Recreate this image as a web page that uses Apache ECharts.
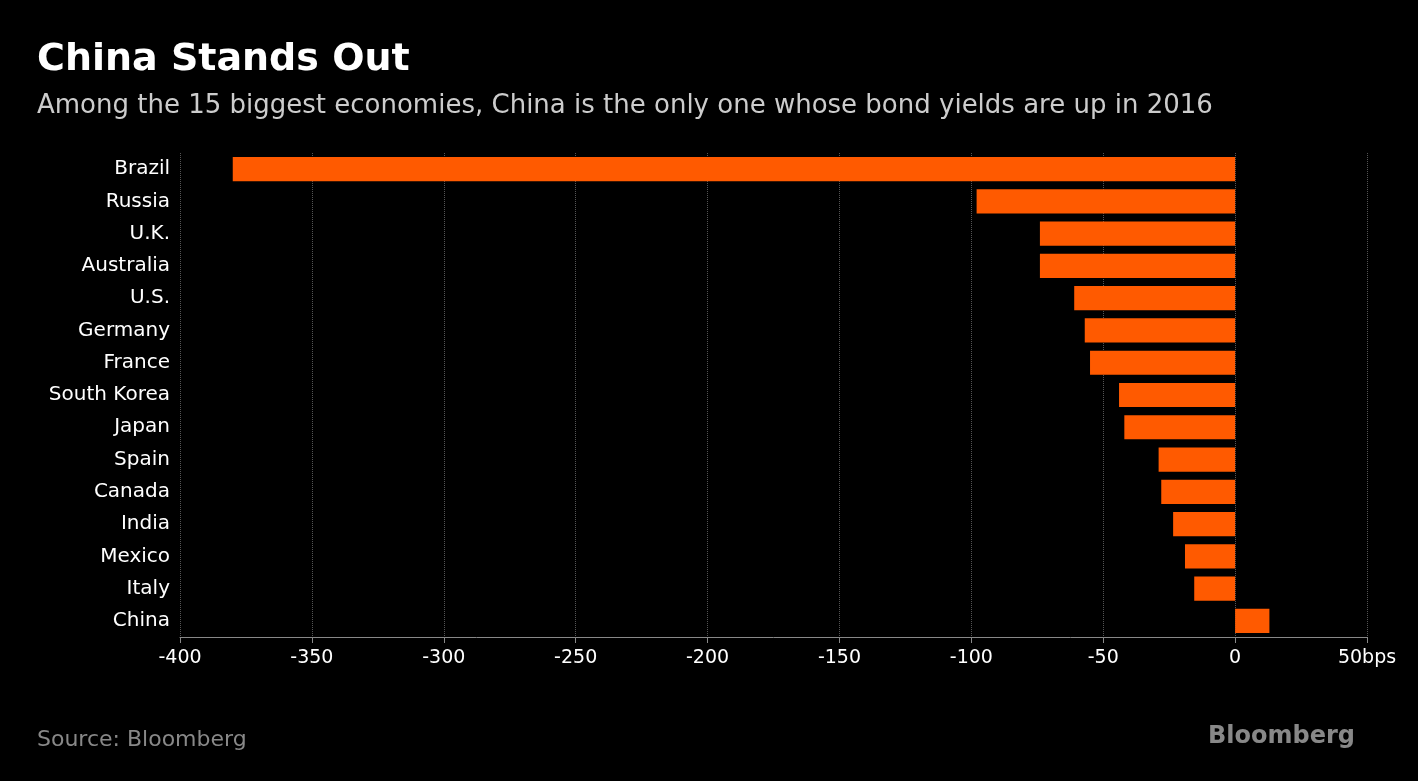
<!DOCTYPE html>
<html>
<head>
<meta charset="utf-8" />
<title>China Stands Out</title>
<script src="https://cdn.jsdelivr.net/npm/echarts@6/dist/echarts.min.js"></script>
<style>
  html,body{margin:0;padding:0;background:#000;}
  #chart{width:1418px;height:781px;}
</style>
</head>
<body>
<div id="chart"></div>
<script>
// 数据
const countries = ['Brazil','Russia','U.K.','Australia','U.S.','Germany','France','South Korea','Japan','Spain','Canada','India','Mexico','Italy','China'];
const yieldChange = [-380,-98,-74,-74,-61,-57,-55,-44,-42,-29,-28,-23.5,-19,-15.5,13];

const chart = echarts.init(document.getElementById('chart'));
const font = 'DejaVu Sans';
chart.setOption({
  backgroundColor: '#000',
  animation: false,
  title: [{
    text: 'China Stands Out',
    left: 32, top: 36,
    textStyle: {color:'#fff', fontSize: 38, fontWeight:'bold', fontFamily: font}
  },{
    text: 'Among the 15 biggest economies, China is the only one whose bond yields are up in 2016',
    left: 32, top: 88,
    textStyle: {color:'#ccc', fontSize: 26, fontWeight:'normal', fontFamily: font}
  },{
    text: 'Source: Bloomberg',
    left: 32, top: 724,
    textStyle: {color:'#888', fontSize: 22, fontWeight:'normal', fontFamily: font}
  },{
    text: 'Bloomberg',
    right: 58, top: 720,
    textStyle: {color:'#888', fontSize: 24, fontWeight:'bold', fontFamily: font}
  }],
  grid: {left: 180, right: 51, top: 153, bottom: 144},
  xAxis: {
    type: 'value', min: -400, max: 50, interval: 50,
    axisLine: {show: true, lineStyle: {color:'#888'}},
    axisTick: {show: true, length: 6, lineStyle: {color:'#888'}},
    splitLine: {show: true, lineStyle: {color:'#555', type:'dotted'}},
    axisLabel: {color:'#fff', fontSize: 19, fontFamily: font, margin: 12,
      formatter: v => v === 50 ? '50bps' : String(v)}
  },
  yAxis: {
    type: 'category', data: countries, inverse: true,
    axisLine: {show: false}, axisTick: {show: false},
    axisLabel: {color:'#fff', fontSize: 20, fontFamily: font, margin: 10}
  },
  series: [{
    type: 'bar', data: yieldChange, barCategoryGap: '25%',
    itemStyle: {color: '#ff5a00'}
  }]
});
</script>
</body>
</html>
